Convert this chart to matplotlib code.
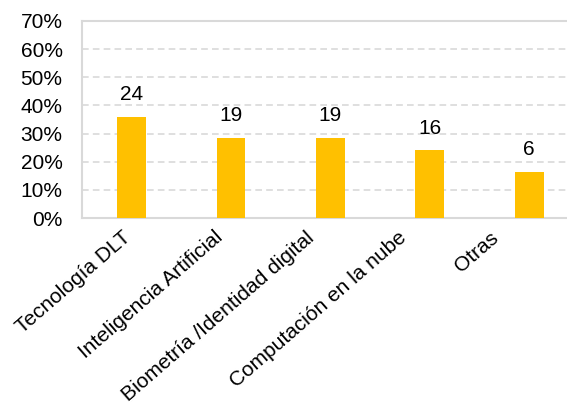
import numpy as np
import matplotlib
matplotlib.use('agg')
import matplotlib.pyplot as plt
import matplotlib.transforms as mtransforms
from matplotlib.ticker import PercentFormatter

plt.rcParams['font.family'] = ['Liberation Sans', 'DejaVu Sans']

categories = ['Tecnología DLT', 'Inteligencia Artificial', 'Biometría /Identidad digital',
              'Computación en la nube', 'Otras']
shares = [36.0, 28.5, 28.5, 24.0, 16.5]   # percent of respondents
counts = [24, 19, 19, 16, 6]

bar_col = '#FFC000'
grid_col = '#D9D9D9'
fs = 15

fig = plt.figure(figsize=(5.67, 4.04), dpi=100)
ax = fig.add_axes([82/567, 1-218/404, 1-82/567, (218-21)/404])

x = np.arange(len(categories))
ax.bar(x, shares, width=0.29, color=bar_col, zorder=3)
for xi, s, c in zip(x, shares, counts):
    ax.annotate(str(c), (xi, s), xytext=(0, 9), textcoords='offset points',
                ha='center', va='bottom', fontsize=fs)

ax.set_ylim(0, 70)
ax.set_xlim(-0.5, 4.38)
ax.set_yticks(np.arange(0, 71, 10))
ax.yaxis.set_major_formatter(PercentFormatter(decimals=0))
ax.yaxis.grid(True, color=grid_col, linestyle=(0, (4, 2.5)), linewidth=1.2, zorder=0)

ax.set_xticks(x)
ax.set_xticklabels(categories, rotation=41, ha='right', rotation_mode='anchor', fontsize=fs)
ax.tick_params(axis='x', length=0, pad=7)
ax.tick_params(axis='y', length=0, pad=14, labelsize=fs)

# category labels drift left of their bars a little more each step
for i, lbl in enumerate(ax.get_xticklabels()):
    shift = mtransforms.ScaledTranslation(-(10 + 7.5 * i) / 100, 0, fig.dpi_scale_trans)
    lbl.set_transform(lbl.get_transform() + shift)

for side in ['left', 'bottom', 'top']:
    ax.spines[side].set_color(grid_col)
    ax.spines[side].set_linewidth(1.5)
ax.spines['right'].set_visible(False)

plt.savefig('out.png', dpi=100)
